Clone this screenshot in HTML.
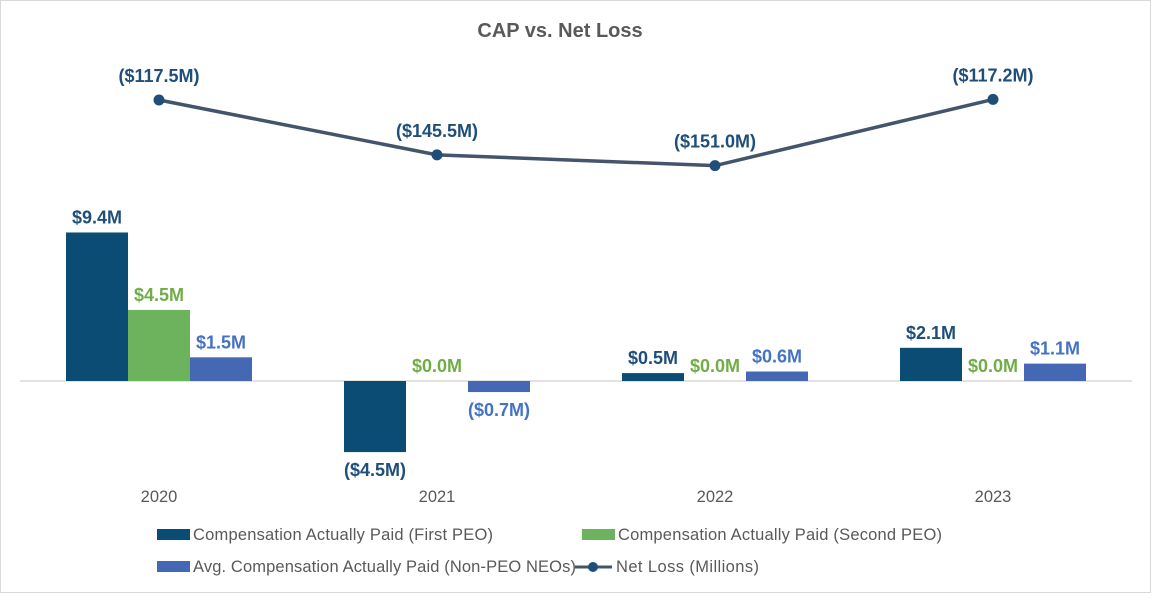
<!DOCTYPE html>
<html><head><meta charset="utf-8"><style>
body{margin:0;background:#fff;}
svg text{font-family:"Liberation Sans",Arial,sans-serif;}
</style></head><body>
<svg width="1152" height="600" xmlns="http://www.w3.org/2000/svg">
<rect x="0.5" y="0.5" width="1150" height="592" fill="#fff" stroke="#d9d9d9"/>
<text x="560" y="37" text-anchor="middle" font-size="20" font-weight="bold" fill="#595959">CAP vs. Net Loss</text>
<line x1="20" y1="381" x2="1132" y2="381" stroke="#d9d9d9" stroke-width="1.5"/>
<g id="bars"></g><g id="line"></g><g id="labels"></g>
<g>
<rect x="157" y="529" width="33" height="11" fill="#0B4C74"/>
<text x="193" y="540" font-size="16.5" fill="#595959" textLength="300">Compensation Actually Paid (First PEO)</text>
<rect x="582" y="529" width="33" height="11" fill="#6DB35E"/>
<text x="618" y="540" font-size="16.5" fill="#595959" textLength="324">Compensation Actually Paid (Second PEO)</text>
<rect x="157" y="561" width="33" height="11" fill="#4468B4"/>
<text x="193" y="572" font-size="16.5" fill="#595959" textLength="383">Avg. Compensation Actually Paid (Non-PEO NEOs)</text>
<line x1="575" y1="567" x2="612" y2="567" stroke="#44546A" stroke-width="3"/>
<circle cx="593" cy="567" r="5" fill="#1F4E79"/>
<text x="616" y="572" font-size="16.5" fill="#595959" textLength="143">Net Loss (Millions)</text>
</g>
</svg>
<script>
const years=["2020","2021","2022","2023"];
const firstPeo=[9.4,-4.5,0.5,2.1];
const secondPeo=[4.5,0.0,0.0,0.0];
const nonPeo=[1.5,-0.7,0.6,1.1];
const netLoss=[-117.5,-145.5,-151.0,-117.2];
const NS="http://www.w3.org/2000/svg";
const xC=i=>159+i*278;
const yB=v=>381-v*15.8;
const yL=v=>100-(v+117.5)*1.96;
function mk(tag,attrs,parent,txt){const e=document.createElementNS(NS,tag);for(const k in attrs)e.setAttribute(k,attrs[k]);if(txt!==undefined)e.textContent=txt;document.getElementById(parent).appendChild(e);return e;}
const fmt=v=>v<0?"($"+Math.abs(v).toFixed(1)+"M)":"$"+v.toFixed(1)+"M";
const series=[[firstPeo,"#0B4C74","#1F4E79","first-peo"],[secondPeo,"#6DB35E","#70AD47","second-peo"],[nonPeo,"#4468B4","#4472C4","non-peo"]];
series.forEach((s,si)=>{
 s[0].forEach((v,i)=>{
  const x=xC(i)+(si-1)*62-31;
  const y0=Math.min(yB(v),381),h=Math.abs(yB(v)-381);
  const r=mk("rect",{x:x,y:y0,width:62,height:h,fill:s[1]},"bars");
  
  
  const ly=v<0?yB(v)+24:yB(v)-9;
  const t=mk("text",{x:x+31,y:ly,"text-anchor":"middle","font-size":"18","font-weight":"bold",fill:s[2]},"labels",fmt(v));
  
  
 });
});
years.forEach((y,i)=>{
 const t=mk("text",{x:xC(i),y:502,"text-anchor":"middle","font-size":"16.5",fill:"#595959"},"labels",y);
 
 
});
const pl=mk("polyline",{points:netLoss.map((v,i)=>xC(i)+","+yL(v)).join(" "),fill:"none",stroke:"#44546A","stroke-width":"3.5"},"line");


netLoss.forEach((v,i)=>{
 const c=mk("circle",{cx:xC(i),cy:yL(v),r:5.5,fill:"#1F4E79"},"line");
 
 
 const t=mk("text",{x:xC(i),y:yL(v)-18,"text-anchor":"middle","font-size":"18","font-weight":"bold",fill:"#1F4E79"},"labels",fmt(v));
 
 
});
</script>
</body></html>
